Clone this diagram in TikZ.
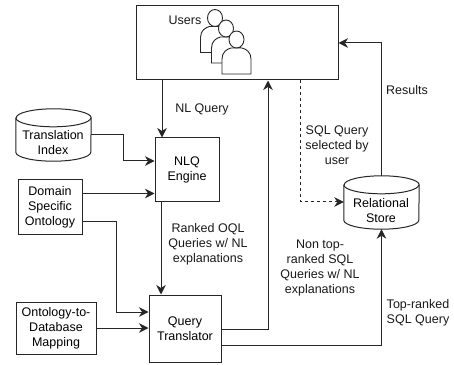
\documentclass[tikz,border=0pt]{standalone}
\usepackage{fontspec}
\setmainfont{Liberation Sans}
\usetikzlibrary{arrows.meta}
\tikzset{
  lbl/.style={align=center,inner sep=0pt,font=\fontsize{12.5}{15}\selectfont,text=black!90},
  boxnode/.style={draw=black!85,line width=1pt,fill=white,inner sep=0pt,align=center,font=\fontsize{12.5}{15}\selectfont},
  cyltext/.style={inner sep=0pt,align=center,font=\fontsize{12.5}{15}\selectfont},
  conn/.style={draw=black!85,line width=1pt,-{Stealth[length=9.5pt,width=9.5pt,inset=3pt]}},
  dashconn/.style={conn,dash pattern=on 3pt off 3pt},
  person/.style={draw=black!85,line width=0.9pt,fill=white}
}
\newcommand{\cylshape}[1]{%
  \draw[draw=black!85,line width=1pt,fill=white]
    ([yshift=-9pt]#1.north west) -- ([yshift=9pt]#1.south west)
    arc[start angle=180,end angle=360,x radius=37.5pt,y radius=9pt]
    -- ([yshift=-9pt]#1.north east)
    arc[start angle=0,end angle=180,x radius=37.5pt,y radius=9pt];
  \draw[draw=black!85,line width=1pt]
    ([yshift=-9pt]#1.north west)
    arc[start angle=180,end angle=360,x radius=37.5pt,y radius=9pt];
}
\newcommand{\personshape}[2]{%
  \draw[person,shift={(#1pt,#2pt)}]
    (0,0) -- (0,15)
    .. controls (0,22) and (5,25) .. (9,26)
    -- (20,26)
    .. controls (24,25) and (29,22) .. (29,15)
    -- (29,0) -- cycle;
  \draw[person,shift={(#1pt,#2pt)}] (14.5,34.5) ellipse[x radius=7.5pt,y radius=8.5pt];
}
\begin{document}
\begin{tikzpicture}[x=1pt,y=1pt]
\useasboundingbox (0,0) rectangle (454,364);
% y here = 364 - pixel y
\node[boxnode,minimum width=202pt,minimum height=74pt] (users) at (237,321) {};
\node[boxnode,minimum width=64pt,minimum height=64pt] (nlq) at (187,194) {NLQ\\Engine};
\node[boxnode,minimum width=64pt,minimum height=54pt] (domain) at (50,157) {Domain\\Specific\\Ontology};
\node[boxnode,minimum width=80pt,minimum height=52pt] (onto) at (56,36) {Ontology-to-\\Database\\Mapping};
\node[boxnode,minimum width=72pt,minimum height=67pt] (qt) at (185,35.5) {Query\\Translator};
\node[minimum width=75pt,minimum height=52pt,inner sep=0pt] (tibox) at (53.5,229) {};
\node[minimum width=75pt,minimum height=53pt,inner sep=0pt] (rsbox) at (381.5,161.5) {};
\cylshape{tibox}
\cylshape{rsbox}
\node[cyltext] (ti) at (53,221.5) {Translation\\Index};
\node[cyltext] (rs) at (381,153.5) {Relational\\Store};
\personshape{200.5}{311.5}
\personshape{211.5}{301}
\personshape{222}{290}
\node[lbl] (usertxt) at (185,344) {Users};
\coordinate (a1) at ([xshift=-25pt]nlq.north);
\draw[conn] (a1 |- users.south) -- (a1);
\coordinate (tiout) at (tibox.east);
\coordinate (nlqin1) at (nlq.west |- 0,203);
\draw[conn] (tiout) -| (123,203) -- (nlqin1);
\coordinate (nlqin2) at (nlq.west |- 0,170.5);
\draw[conn] (domain.east |- nlqin2) -- (nlqin2);
\coordinate (domout) at (domain.east |- 0,142);
\coordinate (qtin1) at (qt.west |- 0,52);
\draw[conn] (domout) -| (116,52) -- (qtin1);
\coordinate (qtin2) at (qt.west |- onto.east);
\draw[conn] (onto.east) -- (qtin2);
\coordinate (a2) at ([xshift=-26pt]nlq.south);
\draw[conn] (a2) -- (a2 |- qt.north);
\coordinate (qtout1) at (qt.east |- 0,35);
\draw[conn] (qtout1) -| (268,0 |- users.south);
\coordinate (qtout2) at (qt.east |- 0,19);
\draw[conn] (qtout2) -| (rsbox.south);
\coordinate (usin) at (users.east |- 0,321);
\draw[conn] (rsbox.north) |- (usin);
\coordinate (dstart) at (300,0 |- users.south);
\draw[dashconn] (dstart) |- (rsbox.west |- 0,162);
\node[lbl] (l1) at (202,255) {NL Query};
\node[lbl] (l2) at (208,120) {Ranked OQL\\Queries w/ NL\\explanations};
\node[lbl] (l3) at (337,219) {SQL Query\\selected by\\user};
\node[lbl] (l4) at (407,274) {Results};
\node[lbl] (l5) at (320,96) {Non top-\\ranked SQL\\Queries w/ NL\\explanations};
\node[lbl] (l6) at (418,51.5) {Top-ranked\\SQL Query};
\end{tikzpicture}
\end{document}
